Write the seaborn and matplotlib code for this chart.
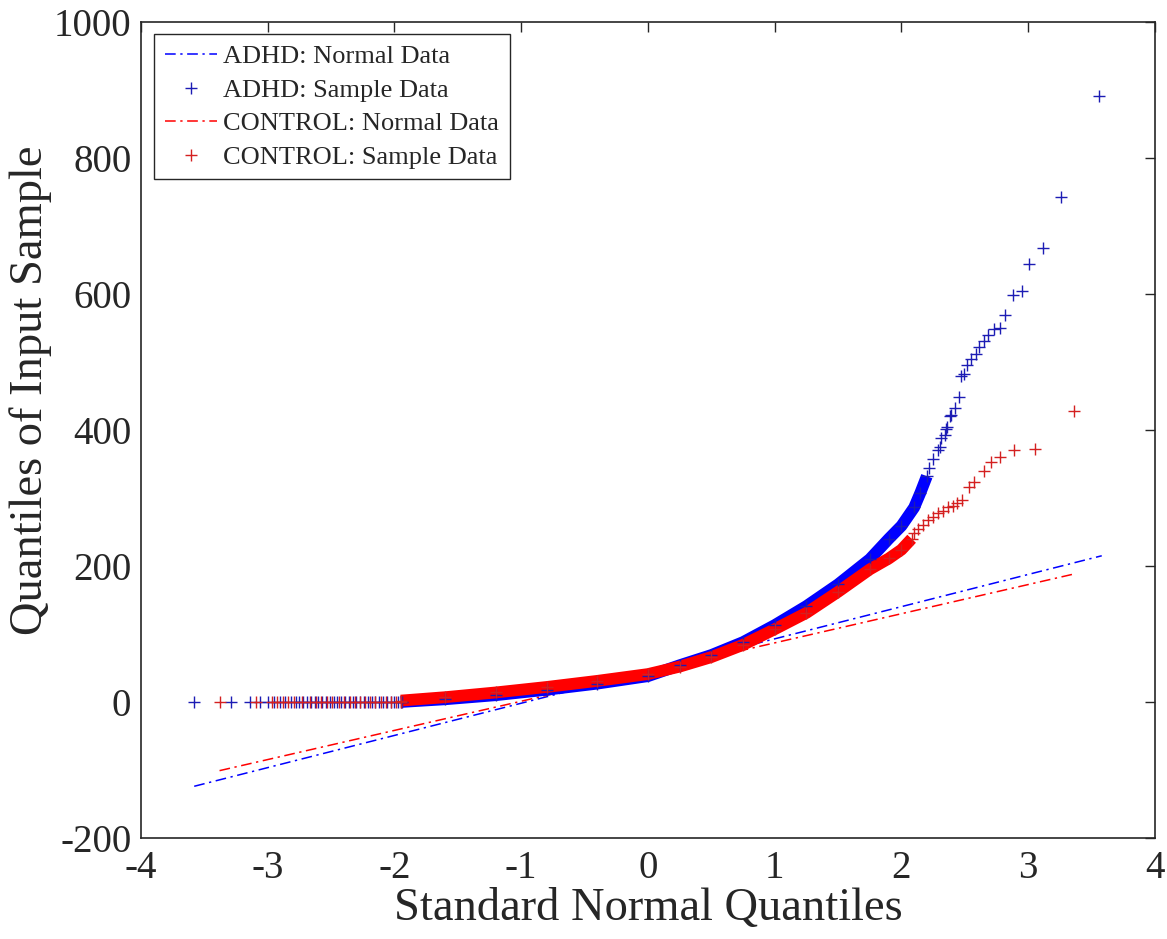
import pandas as pd
import seaborn as sns
import matplotlib.pyplot as plt
from matplotlib.lines import Line2D

# Values
# 1. Lower tail: sample value is ~0, only the normal quantiles differ
adhd_tail_q = [-3.58, -3.29, -3.14, -3.06, -3.00, -2.95, -2.90, -2.86, -2.82, -2.78,
               -2.75, -2.72, -2.69, -2.66, -2.63, -2.60, -2.57, -2.54, -2.51, -2.48,
               -2.45, -2.42, -2.39, -2.36, -2.33, -2.30, -2.27, -2.24, -2.21, -2.18,
               -2.15, -2.12, -2.09, -2.06, -2.03, -2.00, -1.97, -1.94]
control_tail_q = [-3.38, -3.09, -2.97, -2.93, -2.88, -2.84, -2.79, -2.73, -2.67, -2.62,
                  -2.58, -2.53, -2.49, -2.44, -2.40, -2.35, -2.31, -2.27, -2.23, -2.19,
                  -2.15, -2.11, -2.07, -2.03, -1.99, -1.95]

# 2. Dense middle of the samples (centre of the band of markers)
adhd_band_q = [-1.95, -1.6, -1.2, -0.8, -0.4, 0.0, 0.25, 0.5, 0.75, 1.0, 1.25, 1.5,
               1.75, 1.9, 2.0, 2.1, 2.15, 2.2]
adhd_band_v = [0, 4, 10, 18, 27, 38, 54, 69, 88, 113, 141, 173, 210, 240, 259, 286, 308, 332]
control_band_q = [-1.95, -1.6, -1.2, -0.8, -0.4, 0.0, 0.25, 0.5, 0.75, 1.0, 1.25, 1.5,
                  1.75, 1.9, 2.0, 2.08]
control_band_v = [2, 7, 14, 22, 31, 41, 52, 66, 84, 107, 131, 162, 195, 211, 224, 240]

# 3. Upper tail, single markers
adhd_top_q = [2.22, 2.25, 2.29, 2.30, 2.31, 2.34, 2.35, 2.36, 2.38, 2.39,
              2.42, 2.45, 2.47, 2.49, 2.52, 2.55, 2.59, 2.61, 2.65, 2.68, 2.73, 2.78, 2.82,
              2.88, 2.95, 3.01, 3.12, 3.26, 3.56]
adhd_top_v = [344, 358, 371, 375, 388, 393, 402, 405, 420, 422,
              432, 449, 480, 483, 496, 504, 512, 522, 531, 540, 548, 550, 569,
              598, 604, 644, 668, 742, 891]
control_top_q = [2.10, 2.13, 2.17, 2.21, 2.25, 2.29, 2.33, 2.37, 2.41, 2.44, 2.48, 2.53,
                 2.57, 2.65, 2.71, 2.78, 2.89, 3.05, 3.36]
control_top_v = [248, 254, 260, 267, 272, 278, 281, 286, 288, 292, 297, 316,
                 324, 339, 353, 360, 370, 372, 428]

# 4. Fitted normal lines (end points)
adhd_line_q = [-3.58, 3.58]
adhd_line_v = [-124, 215]
control_line_q = [-3.38, 3.38]
control_line_v = [-101, 189]

blue, red = "#0000ff", "#ff0000"
blue_mk, red_mk = "#1c1cb4", "#d42020"
dashdot = (0, (7, 3, 1.5, 3))

sns.set_style("white")
plt.rcParams["font.family"] = ["Liberation Serif", "DejaVu Serif"]
plt.rcParams["axes.unicode_minus"] = False

fig = plt.figure(figsize=(11.67, 9.39), dpi=100)
ax = fig.add_axes([0.1208, 0.1076, 0.8689, 0.869])

groups = [
    (adhd_tail_q, adhd_band_q, adhd_band_v, adhd_top_q, adhd_top_v,
     adhd_line_q, adhd_line_v, blue, blue_mk),
    (control_tail_q, control_band_q, control_band_v, control_top_q, control_top_v,
     control_line_q, control_line_v, red, red_mk),
]

for tq, bq, bv, uq, uv, lq, lv, col, mk in groups:
    line = pd.DataFrame({"q": lq, "v": lv})
    sns.lineplot(data=line, x="q", y="v", color=col, lw=1.1, linestyle=dashdot,
                 estimator=None, ax=ax, zorder=2)

for tq, bq, bv, uq, uv, lq, lv, col, mk in groups:
    band = pd.DataFrame({"q": bq, "v": bv})
    sns.lineplot(data=band, x="q", y="v", color=col, lw=8.5, estimator=None,
                 ax=ax, zorder=3, solid_capstyle="butt")
    pts = pd.DataFrame({"q": list(tq) + list(bq) + list(uq),
                        "v": [0] * len(tq) + list(bv) + list(uv)})
    sns.scatterplot(data=pts, x="q", y="v", marker="+", s=85, linewidth=1.0,
                    color=mk, ax=ax, zorder=4)

ax.set_xlim(-4, 4)
ax.set_ylim(-200, 1000)
ax.set_xticks(range(-4, 5))
ax.set_yticks(range(-200, 1001, 200))
ax.tick_params(direction="in", top=True, right=True, length=7.2, width=1.0,
               labelsize=28, colors="#262626")
ax.tick_params(axis="x", pad=9)
ax.tick_params(axis="y", pad=7)
for s in ax.spines.values():
    s.set_color("#262626")
    s.set_linewidth(1.2)
ax.set_xlabel("Standard Normal Quantiles", fontsize=33.5, color="#262626", labelpad=0)
ax.set_ylabel("Quantiles of Input Sample", fontsize=33.5, color="#262626")
ax.yaxis.set_label_coords(-0.088, 0.549)

handles = [
    Line2D([], [], color=blue, lw=1.1, linestyle=dashdot),
    Line2D([], [], color=blue_mk, marker="+", linestyle="none", markersize=9),
    Line2D([], [], color=red, lw=1.1, linestyle=dashdot),
    Line2D([], [], color=red_mk, marker="+", linestyle="none", markersize=9),
]
labels = ["ADHD: Normal Data", "ADHD: Sample Data",
          "CONTROL: Normal Data", "CONTROL: Sample Data"]
leg = ax.legend(handles, labels, loc="upper left", bbox_to_anchor=(0.0128, 0.985),
                borderaxespad=0, fontsize=19, handlelength=2.0, handletextpad=0.23,
                labelspacing=0.38, fancybox=False, framealpha=1, borderpad=0.4)
leg.get_frame().set_edgecolor("#262626")
leg.get_frame().set_linewidth(1.0)

fig.savefig("out.png", dpi=100)
